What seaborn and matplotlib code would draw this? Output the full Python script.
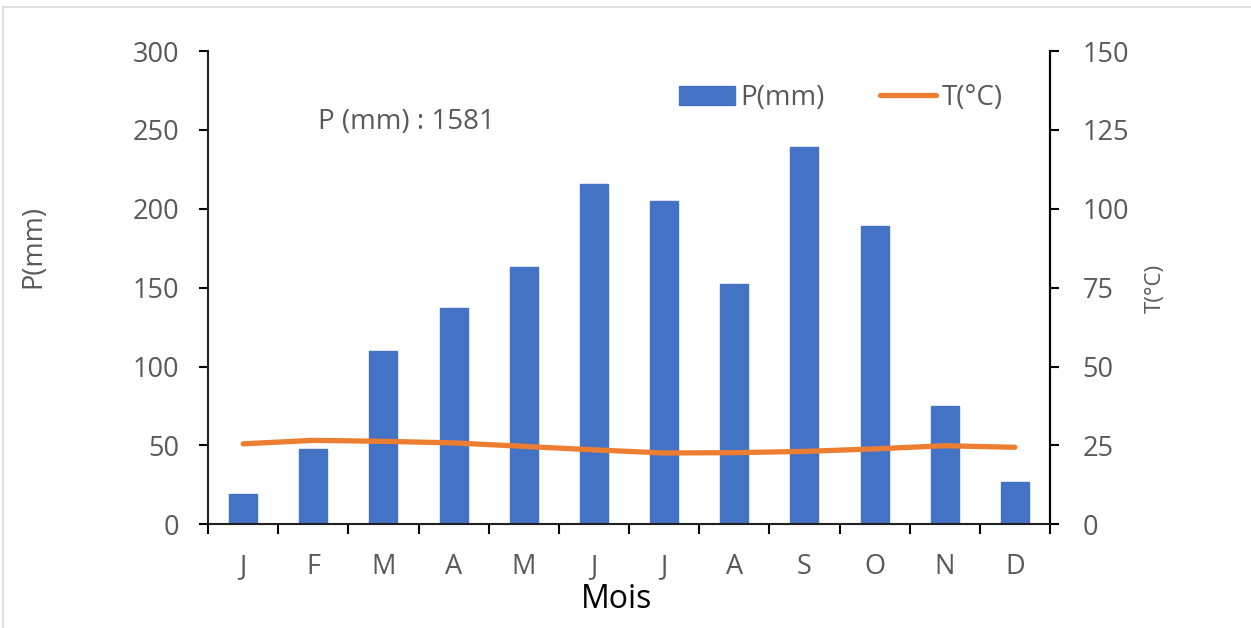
import matplotlib
matplotlib.use("Agg")
import matplotlib.pyplot as plt
import seaborn as sns
import pandas as pd
import numpy as np
from matplotlib.lines import Line2D
from matplotlib.patches import Patch

months = ["J", "F", "M", "A", "M", "J", "J", "A", "S", "O", "N", "D"]
precip = [19, 48, 110, 137, 163, 216, 205, 152, 239, 189, 75, 27]
temp = [25.5, 26.6, 26.3, 25.8, 24.7, 23.6, 22.6, 22.7, 23.1, 23.9, 24.9, 24.4]
annot_text = "P (mm) : 1581"

sns.set_theme(style="white")
plt.rcParams['font.family'] = ['Open Sans', 'DejaVu Sans']

df = pd.DataFrame({"idx": list(range(len(months))), "P": precip, "T": temp})

W, H = 1251, 628
x0, x1, y0, y1 = 208, 1050, 524.3, 51
fig = plt.figure(figsize=(W/100, H/100), dpi=100)
ax = fig.add_axes([x0/W, 1-y0/H, (x1-x0)/W, (y0-y1)/H])

def ax_frac(px, py):
    return ((px-x0)/(x1-x0), (y0-py)/(y0-y1))

TICK = 19.5
GRAY = "#595959"

sns.barplot(data=df, x="idx", y="P", ax=ax, color="#4472C4", width=0.4,
            saturation=1, edgecolor="#4472C4")
ax.set_xlim(-0.5, 11.5)
ax.set_ylim(0, 300)
ax.set_yticks(range(0, 301, 50))
ax.set_xticks(np.arange(-0.5, 12, 1))
ax.set_xticklabels([])
ax.set_xticks(np.arange(12), minor=True)
ax.set_xticklabels(months, minor=True)
ax.tick_params(axis="x", which="major", length=7, width=1.5, color="black", direction="out", bottom=True)
ax.tick_params(axis="x", which="minor", length=0, labelsize=TICK, labelcolor=GRAY, pad=21)
ax.tick_params(axis="y", length=6.5, width=1.5, color="black", direction="out", left=True,
               labelsize=TICK, labelcolor=GRAY, pad=14)
ax.set_xlabel("Mois", fontsize=23, color="black")
ax.xaxis.set_label_coords(*ax_frac(617, 599))
ax.xaxis.label.set_va("center")
ax.set_ylabel("P(mm)", fontsize=19.5, color=GRAY)
ax.yaxis.set_label_coords(*ax_frac(33, 246))
ax.yaxis.label.set_va("center")
ax.spines["top"].set_visible(False)
for s in ["left", "bottom", "right"]:
    ax.spines[s].set_color("black")
    ax.spines[s].set_linewidth(1.5)
ax.grid(False)

ax2 = ax.twinx()
sns.lineplot(data=df, x="idx", y="T", ax=ax2, color="#ED7D31", linewidth=3.8,
             solid_capstyle="round")
ax2.set_ylim(0, 150)
ax2.set_yticks(range(0, 151, 25))
ax2.set_xlim(-0.5, 11.5)
ax2.tick_params(axis="y", length=6.5, width=1.5, color="black", direction="out", right=True,
                labelsize=TICK, labelcolor=GRAY, pad=17)
ax2.set_ylabel("T(°C)", fontsize=16, color=GRAY)
ax2.yaxis.set_label_coords(*ax_frac(1155, 288))
ax2.yaxis.label.set_va("center")
ax2.spines["top"].set_visible(False)
ax2.spines["right"].set_color("black")
ax2.spines["right"].set_linewidth(1.5)
ax2.grid(False)

ax.text(*ax_frac(318, 122), annot_text, transform=ax.transAxes,
        fontsize=20, color=GRAY, va="center", ha="left")

handles = [Patch(facecolor="#4472C4", edgecolor="#4472C4"),
           Line2D([0], [0], color="#ED7D31", linewidth=3.8)]
leg = ax2.legend(handles, ["P(mm)", "T(°C)"], loc="center", ncol=2,
                 bbox_to_anchor=ax_frac(841, 98), bbox_transform=ax.transAxes,
                 frameon=False, fontsize=20, handlelength=2.0, handleheight=0.65,
                 handletextpad=0.2, columnspacing=2.0, borderpad=0, borderaxespad=0)
for t in leg.get_texts():
    t.set_color(GRAY)

fig.add_artist(Line2D([3/W, 1], [1-7/H, 1-7/H], transform=fig.transFigure, color="#D9D9D9", lw=1.2))
fig.add_artist(Line2D([3/W, 3/W], [0, 1-7/H], transform=fig.transFigure, color="#D9D9D9", lw=1.2))

fig.savefig("out.png", dpi=100)
